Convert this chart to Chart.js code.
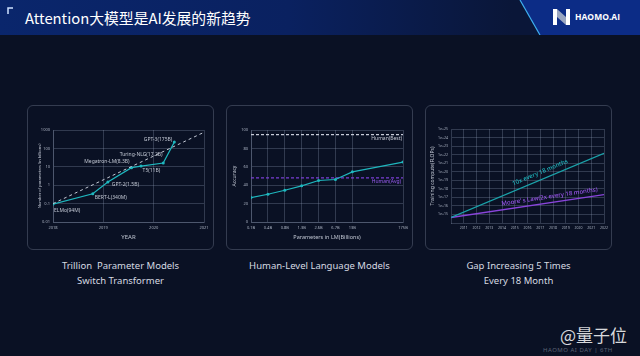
<!DOCTYPE html>
<html>
<head>
<meta charset="utf-8">
<script src="https://cdn.jsdelivr.net/npm/chart.js@4"></script>
<style>
  html, body { margin: 0; padding: 0; }
  body { width: 640px; height: 356px; background: #0a1124; position: relative; overflow: hidden; font-family: "Noto Sans", sans-serif; }
  #header { position: absolute; left: 0; top: 0; width: 640px; height: 35px; background: linear-gradient(90deg, #0a266c 0%, #0a2160 45%, #0a1638 80%); }
  #header svg { position: absolute; left: 0; top: 0; }
  .title { position: absolute; left: 25px; top: 7px; color: #ffffff; font-size: 14.8px; line-height: 21px; font-family: "Noto Sans CJK SC", "Noto Sans", sans-serif; }
  .logo { position: absolute; left: 575px; top: 11px; color: #ffffff; font-size: 8.5px; font-weight: 700; line-height: 12px; font-family: "Open Sans", sans-serif; }
  .panel { position: absolute; top: 105px; width: 185px; height: 143px; border: 1px solid #343c50; border-radius: 6px; }
  canvas { position: absolute; }
  .caption { position: absolute; top: 258px; width: 187px; text-align: center; color: #d6dae2; font-size: 9.5px; line-height: 15px; }
  .wm { position: absolute; left: 560px; top: 324px; color: rgba(255,255,255,0.85); font-size: 17px; font-family: "Noto Sans CJK SC", sans-serif; line-height: 22px; }
  .wm2 { position: absolute; left: 543px; top: 346px; color: #5a6274; font-size: 6px; letter-spacing: 0.5px; }
</style>
</head>
<body>
<div id="header">
  <svg width="640" height="35">
    <polygon points="520,0 640,0 640,35 540,35" fill="#0c2c86"/>
    <line x1="520" y1="0" x2="540" y2="35" stroke="#3fb0f0" stroke-width="1.2"/>
    <polyline points="8,14 8,8 13,8" fill="none" stroke="#cfe2ff" stroke-width="1.5"/>
    <rect x="553" y="9" width="4" height="16" fill="#ffffff"/>
    <polygon points="557,9 566,17 566,25 557,17" fill="#9aa6c0"/>
    <rect x="566" y="9" width="4" height="16" fill="#ffffff"/>
  </svg>
  <div class="title">Attention大模型是AI发展的新趋势</div>
  <div class="logo">HAOMO.AI</div>
</div>

<div class="panel" style="left:27px"></div>
<div class="panel" style="left:226px"></div>
<div class="panel" style="left:425px"></div>

<canvas id="c1" width="187" height="145" style="left:27px;top:105px"></canvas>
<canvas id="c2" width="187" height="145" style="left:226px;top:105px"></canvas>
<canvas id="c3" width="187" height="145" style="left:425px;top:105px"></canvas>

<div class="caption" style="left:27px">Trillion&nbsp; Parameter Models<br>Switch Transformer</div>
<div class="caption" style="left:226px">Human-Level Language Models</div>
<div class="caption" style="left:425px">Gap Increasing 5 Times<br>Every 18 Month</div>

<div class="wm">@量子位</div>
<div class="wm2">HAOMO AI DAY | 6TH</div>

<script>
// chart 1: model sizes over time
const modelNames = ['ELMo(94M)', 'BERT-L(340M)', 'GPT-2(1.5B)', 'Megatron-LM(8.3B)', 'Turing-NLG(17.2B)', 'T5(11B)', 'GPT-3(175B)'];
const modelYears = [2018.0, 2018.79, 2019.09, 2019.56, 2019.75, 2020.19, 2020.41];
const modelParams = [0.094, 0.34, 1.5, 9, 11, 16, 220];
const trendYears = [2018, 2021];
const trendParams = [0.1, 750];
const yearTicks = [2018, 2019, 2020, 2021];
const paramTicks = [0.01, 0.1, 1, 10, 100, 1000];
const paramTickLabels = ['0.01', '0.1', '1', '10', '100', '1000'];

// chart 2: accuracy vs model size
const sizeLabels = ['0.1B', '0.4B', '0.8B', '1.3B', '2.6B', '6.7B', '13B', '175B'];
const sizePositions = [0, 1, 2, 3, 4, 5, 6, 9];
const accuracy = [26.5, 30.2, 34.5, 39.3, 45.1, 46.2, 54.5, 65.1];
const humanBest = 95;
const humanAvg = 48;
const accTicks = [0, 20, 40, 60, 80, 100];

// chart 3: compute growth
const computeYears = [2010, 2022];
const tenXCompute = [4.4e14, 1.45e22];
const mooreCompute = [4.4e14, 2.1e17];
const computeYearTicks = [2011, 2012, 2013, 2014, 2015, 2016, 2017, 2018, 2019, 2020, 2021, 2022];
const flopTicks = [1e15, 1e16, 1e17, 1e18, 1e19, 1e20, 1e21, 1e22, 1e23, 1e24, 1e25];
const flopTickLabels = ['1e+15', '1e+16', '1e+17', '1e+18', '1e+19', '1e+20', '1e+21', '1e+22', '1e+23', '1e+24', '1e+25'];

const teal = '#1fb8bf';
const purple = '#8a45dc';
const gridColor = 'rgba(150,165,190,0.28)';
const tickColor = '#a9b1c0';
const font = 'Noto Sans';

function fixTicks(values) {
    return function (scale) { scale.ticks = values.map(v => ({ value: v })); };
}
function fixWidth(w) { return function (scale) { scale.width = w; }; }
function fixHeight(h) { return function (scale) { scale.height = h; }; }

const grid = { color: gridColor, drawTicks: false };
const border = { color: gridColor };

// labels next to each model point
const labelOffsets = [[1, 6, 'left'], [2, 4, 'left'], [4, 3, 'left'], [-2, -6, 'right'], [0, -11, 'center'], [-3, 8, 'right'], [-2, -3, 'right']];
const modelLabelPlugin = {
    id: 'modelLabels',
    afterDatasetsDraw(chart) {
        const meta = chart.getDatasetMeta(1);
        const ctx = chart.ctx;
        ctx.save();
        ctx.font = '5px "' + font + '"';
        ctx.fillStyle = '#c0c6d2';
        ctx.textBaseline = 'middle';
        meta.data.forEach((pt, i) => {
            const o = labelOffsets[i];
            ctx.textAlign = o[2];
            ctx.fillText(modelNames[i], pt.x + o[0], pt.y + o[1]);
        });
        ctx.restore();
    }
};

new Chart(document.getElementById('c1'), {
    type: 'line',
    data: {
        datasets: [{
            data: trendYears.map((x, i) => ({ x: x, y: trendParams[i] })),
            borderColor: '#c4cad6',
            borderWidth: 1,
            borderDash: [3, 3],
            pointRadius: 0
        }, {
            data: modelYears.map((x, i) => ({ x: x, y: modelParams[i] })),
            borderColor: teal,
            backgroundColor: teal,
            borderWidth: 1.2,
            pointRadius: 1.5,
            pointBorderWidth: 0
        }]
    },
    options: {
        responsive: false,
        animation: false,
        devicePixelRatio: 1,
        layout: { padding: { left: 10, top: 25, right: 10, bottom: 9 } },
        plugins: { legend: { display: false }, tooltip: { enabled: false } },
        scales: {
            x: {
                type: 'linear', min: 2018, max: 2021,
                afterBuildTicks: fixTicks(yearTicks),
                afterFit: fixHeight(19),
                grid: grid, border: border,
                ticks: { color: tickColor, font: { family: font, size: 4 }, padding: 3, maxRotation: 0, callback: v => String(v) },
                title: { display: true, text: 'YEAR', color: '#c0c6d2', font: { family: font, size: 6 }, padding: 0 }
            },
            y: {
                type: 'logarithmic', min: 0.01, max: 1000,
                afterBuildTicks: fixTicks(paramTicks),
                afterFit: fixWidth(16),
                grid: grid, border: border,
                ticks: { color: tickColor, font: { family: font, size: 4 }, padding: 3, callback: v => paramTickLabels[paramTicks.indexOf(v)] },
                title: { display: true, text: 'Number of parameters (in billions)', color: '#c0c6d2', font: { family: font, size: 4 }, padding: 0 }
            }
        }
    },
    plugins: [modelLabelPlugin]
});

// human reference labels
const humanLabelPlugin = {
    id: 'humanLabels',
    afterDatasetsDraw(chart) {
        const ctx = chart.ctx;
        const y = chart.scales.y;
        const right = chart.chartArea.right;
        ctx.save();
        ctx.font = '5px "' + font + '"';
        ctx.textAlign = 'right';
        ctx.textBaseline = 'middle';
        ctx.fillStyle = '#c8ccd8';
        ctx.fillText('Human(Best)', right - 1, y.getPixelForValue(humanBest) + 4);
        ctx.fillStyle = '#9a5cf0';
        ctx.fillText('Human(Avg)', right - 2, y.getPixelForValue(humanAvg) + 4);
        ctx.restore();
    }
};

new Chart(document.getElementById('c2'), {
    type: 'line',
    data: {
        datasets: [{
            data: sizePositions.map((x, i) => ({ x: x, y: accuracy[i] })),
            borderColor: teal,
            backgroundColor: teal,
            borderWidth: 1.2,
            pointRadius: 1.5,
            pointBorderWidth: 0
        }, {
            data: [{ x: 0, y: humanBest }, { x: 9, y: humanBest }],
            borderColor: '#c8ccd8',
            borderWidth: 1.2,
            borderDash: [3, 2],
            pointRadius: 0
        }, {
            data: [{ x: 0, y: humanAvg }, { x: 9, y: humanAvg }],
            borderColor: '#7a3fd4',
            borderWidth: 1.4,
            borderDash: [3, 2],
            pointRadius: 0
        }]
    },
    options: {
        responsive: false,
        animation: false,
        devicePixelRatio: 1,
        layout: { padding: { left: 6, top: 25, right: 10, bottom: 9 } },
        plugins: { legend: { display: false }, tooltip: { enabled: false } },
        scales: {
            x: {
                type: 'linear', min: 0, max: 9,
                afterBuildTicks: fixTicks(sizePositions),
                afterFit: fixHeight(19),
                grid: grid, border: border,
                ticks: { color: tickColor, font: { family: font, size: 4 }, padding: 3, maxRotation: 0, callback: v => sizeLabels[sizePositions.indexOf(v)] },
                title: { display: true, text: 'Parameters in LM(Billions)', color: '#c0c6d2', font: { family: font, size: 5.5 }, padding: 0 }
            },
            y: {
                min: 0, max: 100,
                afterBuildTicks: fixTicks(accTicks),
                afterFit: fixWidth(19),
                grid: grid, border: border,
                ticks: { color: tickColor, font: { family: font, size: 4 }, padding: 3 },
                title: { display: true, text: 'Accuracy', color: '#c0c6d2', font: { family: font, size: 5 }, padding: 0 }
            }
        }
    },
    plugins: [humanLabelPlugin]
});

// labels rotated along the two growth lines
function lineLabel(chart, idx, text, color, frac, lift) {
    const pts = chart.getDatasetMeta(idx).data;
    const a = pts[0], b = pts[pts.length - 1];
    const ang = Math.atan2(b.y - a.y, b.x - a.x);
    const x = a.x + (b.x - a.x) * frac + Math.sin(ang) * lift;
    const y = a.y + (b.y - a.y) * frac - Math.cos(ang) * lift;
    const ctx = chart.ctx;
    ctx.save();
    ctx.translate(x, y);
    ctx.rotate(ang);
    ctx.font = '500 6px "' + font + '"';
    ctx.fillStyle = color;
    ctx.textAlign = 'center';
    ctx.textBaseline = 'middle';
    ctx.fillText(text, 0, 0);
    ctx.restore();
}
const growthLabelPlugin = {
    id: 'growthLabels',
    afterDatasetsDraw(chart) {
        lineLabel(chart, 0, '10x every 18 months', teal, 0.6, 7);
        lineLabel(chart, 1, 'Moore’ s Law(2x every 18 months)', '#9a55ec', 0.65, 6);
    }
};

new Chart(document.getElementById('c3'), {
    type: 'line',
    data: {
        datasets: [{
            data: computeYears.map((x, i) => ({ x: x, y: tenXCompute[i] })),
            borderColor: '#1ba3aa',
            borderWidth: 1.3,
            pointRadius: 0
        }, {
            data: computeYears.map((x, i) => ({ x: x, y: mooreCompute[i] })),
            borderColor: purple,
            borderWidth: 1.3,
            pointRadius: 0
        }]
    },
    options: {
        responsive: false,
        animation: false,
        devicePixelRatio: 1,
        layout: { padding: { left: 5, top: 24, right: 8, bottom: 14 } },
        plugins: { legend: { display: false }, tooltip: { enabled: false } },
        scales: {
            x: {
                type: 'linear', min: 2010, max: 2022,
                afterBuildTicks: fixTicks(computeYearTicks),
                afterFit: fixHeight(13),
                grid: grid, border: border,
                ticks: { color: tickColor, font: { family: font, size: 3.5 }, padding: 3, maxRotation: 0, callback: v => String(v) }
            },
            y: {
                type: 'logarithmic', min: 1e14, max: 1e25,
                afterBuildTicks: fixTicks(flopTicks),
                afterFit: fixWidth(21),
                grid: grid, border: border,
                ticks: { color: tickColor, font: { family: font, size: 3.5 }, padding: 3, callback: v => flopTickLabels[flopTicks.indexOf(v)] },
                title: { display: true, text: 'Training compute(FLOPs)', color: '#c0c6d2', font: { family: font, size: 5 }, padding: 0 }
            }
        }
    },
    plugins: [growthLabelPlugin]
});
</script>
</body>
</html>
